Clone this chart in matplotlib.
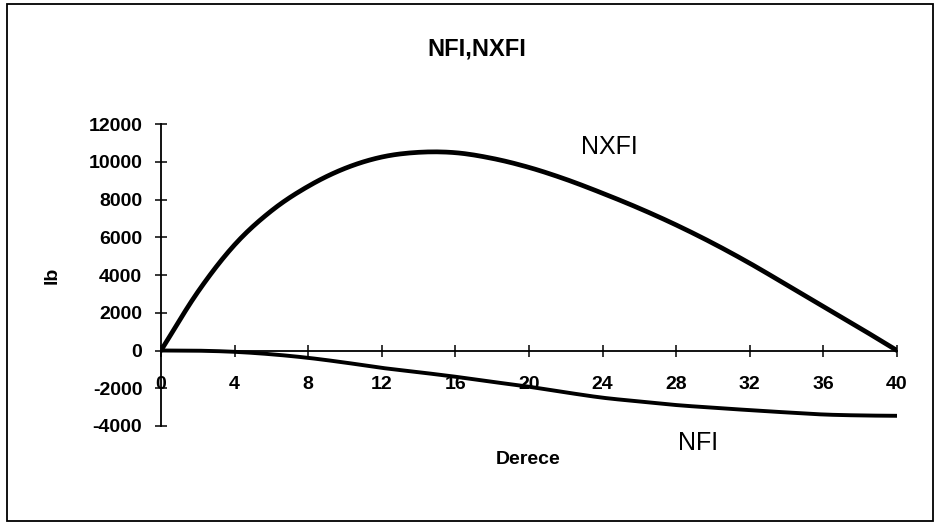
import numpy as np
import matplotlib
matplotlib.use("Agg")
import matplotlib.pyplot as plt
from matplotlib.patches import Rectangle

# Angle (degrees) and the two force components (lb)
derece = [0, 2, 4, 6, 8, 10, 12, 14, 16, 18, 20, 22, 24, 26, 28, 30, 32, 34, 36, 38, 40]
nxfi = [0, 3100, 5600, 7400, 8700, 9650, 10250, 10500, 10480, 10180, 9700,
        9070, 8330, 7530, 6650, 5680, 4620, 3480, 2330, 1180, 0]
nfi = [0, -10, -70, -200, -390, -640, -920, -1150, -1390, -1660, -1920,
       -2220, -2500, -2700, -2890, -3030, -3160, -3280, -3390, -3440, -3460]

x_ticks = list(range(0, 41, 4))
y_ticks = list(range(-4000, 12001, 2000))

title = "NFI,NXFI"
x_label = "Derece"
y_label = "lb"

plt.rcParams['font.family'] = ['Liberation Sans', 'DejaVu Sans']
plt.rcParams['axes.unicode_minus'] = False


def smooth(xs, ys, n=12):
    """Catmull-Rom smoothed path through the given points."""
    xs = np.asarray(xs, float)
    ys = np.asarray(ys, float)
    px = np.concatenate([[2 * xs[0] - xs[1]], xs, [2 * xs[-1] - xs[-2]]])
    py = np.concatenate([[2 * ys[0] - ys[1]], ys, [2 * ys[-1] - ys[-2]]])
    t = np.linspace(0, 1, n, endpoint=False)
    ox, oy = [], []
    for i in range(1, len(px) - 2):
        for arr, out in ((px, ox), (py, oy)):
            p0, p1, p2, p3 = arr[i - 1], arr[i], arr[i + 1], arr[i + 2]
            out.extend(0.5 * ((2 * p1) + (-p0 + p2) * t
                              + (2 * p0 - 5 * p1 + 4 * p2 - p3) * t ** 2
                              + (-p0 + 3 * p1 - 3 * p2 + p3) * t ** 3))
    ox.append(xs[-1])
    oy.append(ys[-1])
    return ox, oy


W, H = 936, 524
fig = plt.figure(figsize=(W / 100, H / 100), dpi=100)


def fx(px):
    return px / W


def fy(py):
    return 1 - py / H


left, right, top, bottom = 161, 897, 124, 426
ax = fig.add_axes([fx(left), fy(bottom), fx(right) - fx(left), fy(top) - fy(bottom)])

ax.plot(*smooth(derece, nxfi), color='black', lw=3.4, solid_capstyle='round')
ax.plot(*smooth(derece, nfi), color='black', lw=2.8, solid_capstyle='round')

ax.set_xlim(0, 40)
ax.set_ylim(-4000, 12000)
ax.set_xticks(x_ticks)
ax.set_yticks(y_ticks)

ax.spines['top'].set_visible(False)
ax.spines['right'].set_visible(False)
ax.spines['bottom'].set_position(('data', 0))
for s in ('left', 'bottom'):
    ax.spines[s].set_linewidth(1.3)
    ax.spines[s].set_zorder(1)

ax.tick_params(axis='both', direction='inout', length=9, width=1.1, labelsize=14)
ax.tick_params(axis='x', pad=14)
ax.tick_params(axis='y', pad=9)
for lbl in ax.get_xticklabels() + ax.get_yticklabels():
    lbl.set_fontweight('bold')
ax.patch.set_visible(False)

fig.text(fx(477), fy(49), title, ha='center', va='center', fontsize=17, fontweight='bold')
fig.text(fx(528), fy(460), x_label, ha='center', va='center', fontsize=14, fontweight='bold')
fig.text(fx(52), fy(275), y_label, ha='center', va='center', fontsize=14, fontweight='bold', rotation=90)
fig.text(fx(609), fy(147), "NXFI", ha='center', va='center', fontsize=18)
fig.text(fx(698), fy(443), "NFI", ha='center', va='center', fontsize=18)

fig.patches.append(Rectangle((fx(7), fy(521)), fx(926), 517 / H, transform=fig.transFigure,
                             fill=False, edgecolor='black', lw=1.3))

fig.savefig("out.png", dpi=100)
